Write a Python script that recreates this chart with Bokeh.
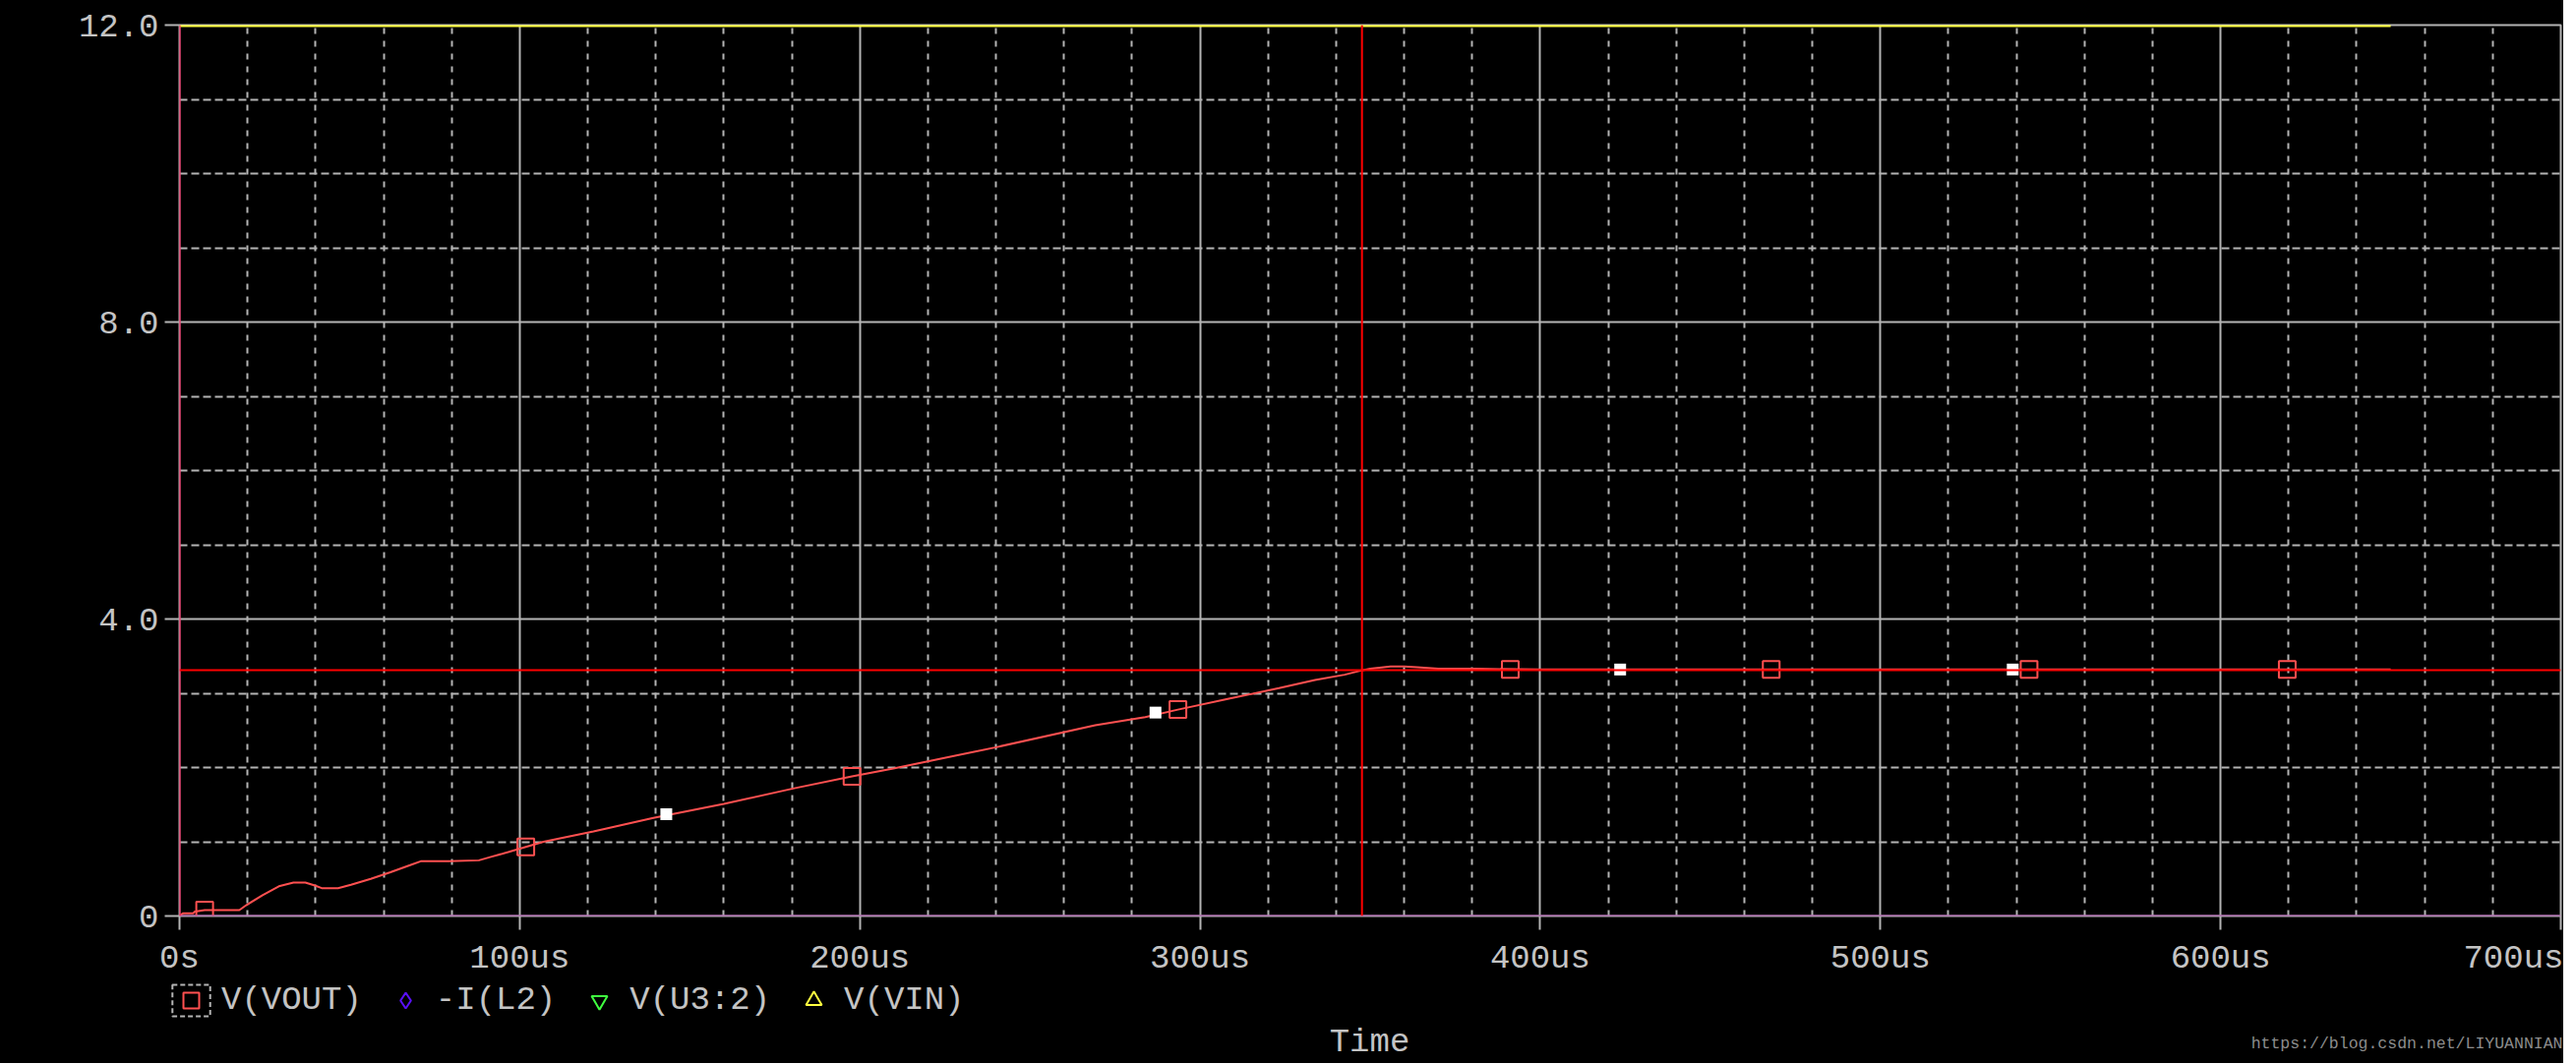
from bokeh.plotting import figure
from bokeh.models import (FixedTicker, Span, Legend, LegendItem, Range1d, Label)
from bokeh.layouts import column
from bokeh.embed import file_html
from bokeh.resources import INLINE

# ---------------- data (time in microseconds, volts) ----------------
x_ticks = [0, 100, 200, 300, 400, 500, 600, 700]
x_tick_labels = ["0s", "100us", "200us", "300us", "400us", "500us", "600us", "700us"]
x_minor = [20, 40, 60, 80, 120, 140, 160, 180, 220, 240, 260, 280, 320, 340, 360, 380,
           420, 440, 460, 480, 520, 540, 560, 580, 620, 640, 660, 680]
y_ticks = [0, 4, 8, 12]
y_tick_labels = ["0", "4.0", "8.0", "12.0"]
y_minor = [1, 2, 3, 5, 6, 7, 9, 10, 11]

vout_t = [0, 1, 4, 4.5, 7.4, 17.6, 19.6, 24.4, 29.2, 33.5, 37, 39.8, 41.8, 46.6, 50.4,
          56.2, 62, 67.8, 71.1, 79.3, 88, 91.8, 96.6, 101.8, 107, 121.7, 139.3, 160,
          180.7, 197.7, 210.2, 239.7, 269.2, 283.9, 293.5, 308.8, 323.2, 333.8, 342.5,
          346.8, 350.1, 356, 360, 363.7, 370, 381, 400, 450, 500, 550, 600, 650]
vout_v = [0, 0.035, 0.035, 0.06, 0.08, 0.08, 0.145, 0.28, 0.40, 0.45, 0.45, 0.41, 0.375,
          0.375, 0.42, 0.50, 0.59, 0.685, 0.74, 0.74, 0.75, 0.80, 0.86, 0.93, 1.0, 1.14,
          1.32, 1.51, 1.72, 1.88, 1.99, 2.27, 2.57, 2.68, 2.78, 2.93, 3.07, 3.18, 3.25,
          3.30, 3.33, 3.36, 3.36, 3.35, 3.33, 3.33, 3.32, 3.32, 3.32, 3.32, 3.32, 3.32]

vout_mark_t = [7.4, 101.8, 197.7, 293.5, 391.2, 467.9, 543.7, 619.6]
vout_mark_v = [0.08, 0.93, 1.88, 2.78, 3.32, 3.32, 3.32, 3.32]

point_t = [143.1, 286.9, 423.5, 538.9]
point_v = [1.37, 2.74, 3.32, 3.32]

vin_t = [0, 650]
vin_v = [12, 12]

cursor1_t = 347.6
cursor1_v = 3.31
cursor2_t = 0
cursor2_v = 0

legend_labels = ["V(VOUT)", "-I(L2)", "V(U3:2)", "V(VIN)"]
# legend keys only (kept outside the visible range of the legend strip)
key_x = [0]
key_y = [-1]
x_title = "Time"
watermark = "https://blog.csdn.net/LIYUANNIAN"

# ---------------- styling ----------------
GRAY = "#b4b4b4"
TXT = "#c4c4c4"
FONT = "Liberation Mono"
FS = "34px"
W = 2606

p = figure(width=W, height=997, output_backend="svg", toolbar_location=None,
           x_range=Range1d(0, 700), y_range=Range1d(0, 12),
           min_border_left=182, min_border_right=3, min_border_top=25,
           min_border_bottom=66)
p.frame_align = False
p.background_fill_color = "black"
p.border_fill_color = "black"
p.outline_line_color = GRAY
p.outline_line_width = 2

p.xaxis.ticker = FixedTicker(ticks=x_ticks, minor_ticks=x_minor)
p.yaxis.ticker = FixedTicker(ticks=y_ticks, minor_ticks=y_minor)
p.xaxis.major_label_overrides = {t: l for t, l in zip(x_ticks, x_tick_labels)}
p.yaxis.major_label_overrides = {t: l for t, l in zip(y_ticks, y_tick_labels)}

for ax in (p.xaxis, p.yaxis):
    ax.axis_line_color = None
    ax.major_tick_line_color = GRAY
    ax.major_tick_line_width = 2
    ax.major_tick_in = 0
    ax.minor_tick_line_color = None
    ax.major_label_text_font = FONT
    ax.major_label_text_font_size = FS
    ax.major_label_text_color = TXT
p.xaxis.major_tick_out = 14
p.yaxis.major_tick_out = 15
p.xaxis.major_label_standoff = 10
p.yaxis.major_label_standoff = 6

p.xgrid.grid_line_color = GRAY
p.xgrid.grid_line_width = 2
p.xgrid.minor_grid_line_color = GRAY
p.xgrid.minor_grid_line_width = 2
p.xgrid.minor_grid_line_dash = "6 7"
p.ygrid.grid_line_color = GRAY
p.ygrid.grid_line_width = 2
p.ygrid.minor_grid_line_color = GRAY
p.ygrid.minor_grid_line_width = 2
p.ygrid.minor_grid_line_dash = "8 4"

# traces
p.line(vin_t, vin_v, line_color="#ffff40", line_width=4)
p.line(vout_t, vout_v, line_color="#ff5050", line_width=2)
p.scatter(vout_mark_t, vout_mark_v, marker="square", size=17,
          fill_color=None, line_color="#ff5050", line_width=2)
p.scatter(point_t, point_v, marker="square", size=12, fill_color="white", line_color=None)

# cursors
p.add_layout(Span(location=cursor2_v, dimension="width", line_color="#b050b0", line_width=2))
p.add_layout(Span(location=cursor2_t, dimension="height", line_color="#ff1055", line_width=2))
p.add_layout(Span(location=cursor1_v, dimension="width", line_color="#ff0000", line_width=2))
p.add_layout(Span(location=cursor1_t, dimension="height", line_color="#ff0000", line_width=2))

# ---------------- legend strip under the axis ----------------
H2 = 84
p2 = figure(width=W, height=H2, output_backend="svg", toolbar_location=None,
            x_range=Range1d(0, W), y_range=Range1d(0, 1),
            x_axis_type=None, y_axis_type=None,
            min_border_left=0, min_border_right=0, min_border_top=0, min_border_bottom=0)
p2.frame_align = False
p2.background_fill_color = "black"
p2.border_fill_color = "black"
p2.outline_line_color = None
p2.outline_line_alpha = 0
p2.grid.visible = False

sel_box = p2.quad(left=key_x, right=key_x, top=key_y, bottom=key_y, fill_color=None,
                  line_color=GRAY, line_width=2, line_dash="5 3")
k_vout = p2.scatter(key_x, key_y, marker="square", size=17, fill_color=None,
                    line_color="#ff5050", line_width=2)
k_il2 = p2.scatter(key_x, key_y, marker="diamond", size=18, fill_color=None,
                   line_color="#5a10ff", line_width=2)
k_u32 = p2.scatter(key_x, key_y, marker="inverted_triangle", size=18, fill_color=None,
                   line_color="#40ff40", line_width=2)
k_vin = p2.scatter(key_x, key_y, marker="triangle", size=18, fill_color=None,
                   line_color="#ffff40", line_width=2)

legend = Legend(items=[LegendItem(label=legend_labels[0], renderers=[sel_box, k_vout]),
                       LegendItem(label=legend_labels[1], renderers=[k_il2]),
                       LegendItem(label=legend_labels[2], renderers=[k_u32]),
                       LegendItem(label=legend_labels[3], renderers=[k_vin])],
                location=(170, H2 - 40), orientation="horizontal",
                glyph_width=48, glyph_height=40, label_height=40, label_standoff=7,
                spacing=20, padding=0, margin=0,
                background_fill_alpha=0, border_line_color=None,
                label_text_font=FONT, label_text_font_size=FS, label_text_color=TXT)
p2.add_layout(legend, "center")

p2.add_layout(Label(x=1392, y=22, x_units="screen", y_units="screen", text=x_title,
                    text_align="center", text_baseline="middle", text_font=FONT,
                    text_font_size=FS, text_color=TXT))
p2.add_layout(Label(x=W - 1, y=20, x_units="screen", y_units="screen", text=watermark,
                    text_align="right", text_baseline="middle", text_font=FONT,
                    text_font_size="16.5px", text_color="#8c8c8c"))

layout = column(p, p2, spacing=0)
layout.styles = {"background-color": "#000000"}
html = file_html(layout, INLINE)
html = html.replace("<body>", '<body style="background-color:#000000;">', 1)
open("out.html", "w").write(html)
